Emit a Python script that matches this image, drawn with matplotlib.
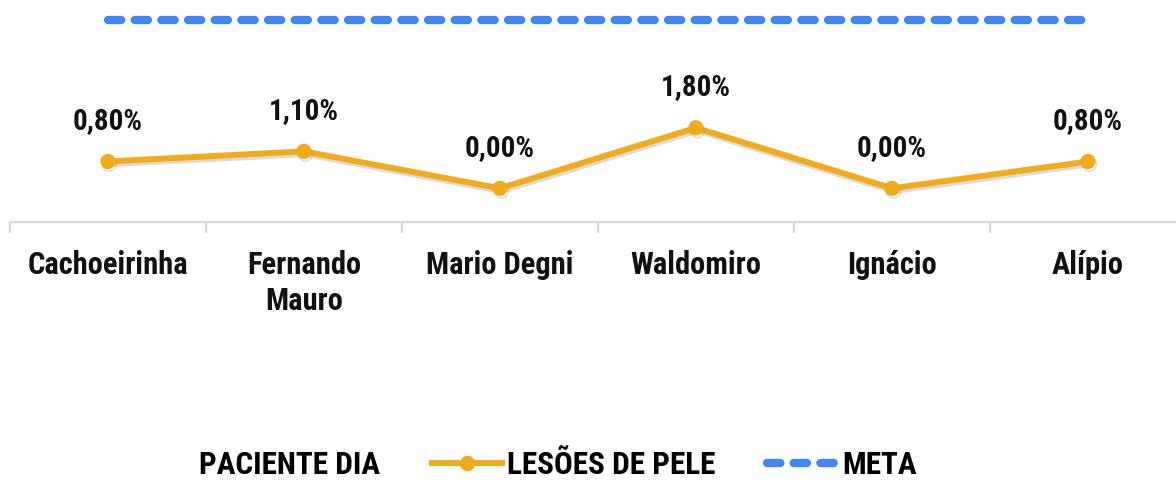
import matplotlib
matplotlib.use("Agg")
import matplotlib.pyplot as plt
import matplotlib.patheffects as pe
from matplotlib.lines import Line2D

units = ["Cachoeirinha", "Fernando\nMauro", "Mario Degni", "Waldomiro", "Ignácio", "Alípio"]
lesoes = [0.80, 1.10, 0.00, 1.80, 0.00, 0.80]
meta = [5.0, 5.0, 5.0, 5.0, 5.0, 5.0]

GOLD = "#F0AB1B"
BLUE = "#4285F4"

plt.rcParams["font.family"] = ["Roboto Condensed", "Roboto", "DejaVu Sans"]
plt.rcParams["font.weight"] = "bold"

fig = plt.figure(figsize=(11.76, 4.83), dpi=100)
ax = fig.add_axes([10 / 1176, 1 - 222 / 483, 1.0, 222 / 483])

x = list(range(len(units)))

ax.plot(x, meta, color=BLUE, lw=6, dashes=(1.6, 1.6), dash_capstyle="round",
        solid_capstyle="round")
ax.plot(x, lesoes, color=GOLD, lw=4.3, marker="o", markersize=10,
        solid_capstyle="round",
        path_effects=[pe.SimpleLineShadow(offset=(1, -2), shadow_color="#888888", alpha=0.3),
                      pe.Normal()])

for xi, v in zip(x, lesoes):
    ax.annotate(f"{v:.2f}%".replace(".", ","), (xi, v), xytext=(0, 19),
                textcoords="offset points", ha="center", va="bottom",
                fontsize=21, fontweight="bold", color="#111111")

ax.set_xlim(-0.5, len(units) - 0.5)
ax.set_ylim(-1.0, 5.6)

for s in ["top", "right", "left"]:
    ax.spines[s].set_visible(False)
ax.spines["bottom"].set_color("#d9d9d9")
ax.spines["bottom"].set_linewidth(1.6)
ax.set_yticks([])

ax.set_xticks(x)
ax.set_xticklabels(units, fontsize=22, fontweight="bold", color="#111111", linespacing=1.25)
ax.tick_params(axis="x", which="major", length=0, pad=20)
ax.set_xticks([i - 0.5 for i in range(len(units) + 1)], minor=True)
ax.tick_params(axis="x", which="minor", length=8, width=1.6, color="#d9d9d9")

handles = [
    Line2D([], [], color="none"),
    Line2D([], [], color=GOLD, lw=4.3, marker="o", markersize=10),
    Line2D([], [], color=BLUE, lw=6, dashes=(1.6, 1.6), dash_capstyle="round"),
]
labels = ["PACIENTE DIA", "LESÕES DE PELE", "META"]
fig.legend(handles, labels, loc="center", bbox_to_anchor=(520 / 1176, 1 - 465 / 483),
           ncol=3, frameon=False, handlelength=2.24, handletextpad=0.16,
           columnspacing=1.66, prop={"size": 22.5, "weight": "bold"})

fig.savefig("out.png", dpi=100)
